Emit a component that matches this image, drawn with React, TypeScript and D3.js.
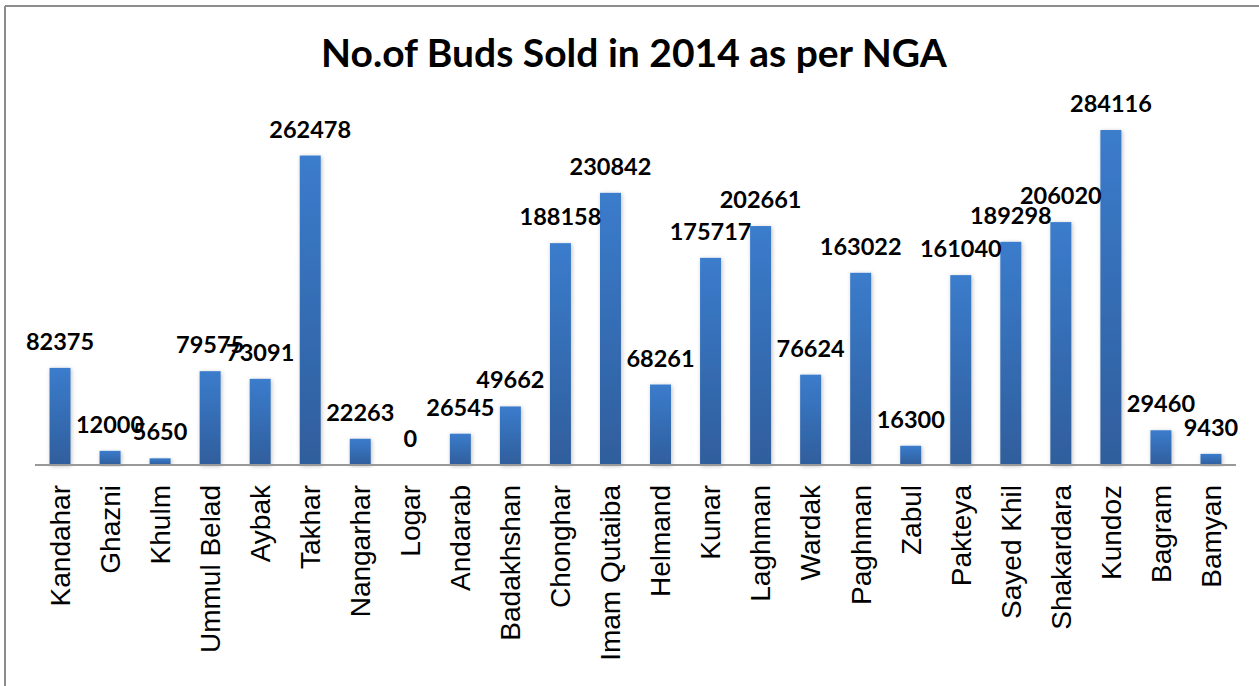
import React from "react";
import * as d3 from "d3";

const categories = [
  "Kandahar", "Ghazni", "Khulm", "Ummul Belad", "Aybak", "Takhar", "Nangarhar", "Logar",
  "Andarab", "Badakhshan", "Chonghar", "Imam Qutaiba", "Helmand", "Kunar", "Laghman", "Wardak",
  "Paghman", "Zabul", "Pakteya", "Sayed Khil", "Shakardara", "Kundoz", "Bagram", "Bamyan",
];
const values = [
  82375, 12000, 5650, 79575, 73091, 262478, 22263, 0,
  26545, 49662, 188158, 230842, 68261, 175717, 202661, 76624,
  163022, 16300, 161040, 189298, 206020, 284116, 29460, 9430,
];
const title = "No.of Buds Sold in 2014 as per NGA";

const W = 1259;
const H = 686;
const plotLeft = 35;
const plotRight = 1236;
const plotBottom = 465;
const plotTop = 111.3;

export default function App() {
  const y = d3.scaleLinear().domain([0, 300000]).range([plotBottom, plotTop]);
  const x = d3.scaleBand<string>().domain(categories).range([plotLeft, plotRight]);
  const center = (c: string) => (x(c) as number) + x.bandwidth() / 2;
  const bw = 21;

  return (
    <svg width={W} height={H} style={{ position: "absolute", left: 0, top: 0, background: "#fff" }}>
      <defs>
        <linearGradient id="barGrad" x1="0" y1="0" x2="0" y2="1">
          <stop offset="0%" stopColor="#3b7ccc" />
          <stop offset="100%" stopColor="#2f5e9c" />
        </linearGradient>
        <filter id="shadow" x="-50%" y="-10%" width="200%" height="120%">
          <feDropShadow dx="1" dy="1" stdDeviation="2" floodColor="#000" floodOpacity="0.25" />
        </filter>
      </defs>
      <rect x={0} y={0} width={W} height={H} fill="#fff" />
      <line x1={5} y1={6} x2={W} y2={6} stroke="#8c8c8c" strokeWidth={2} />
      <line x1={5} y1={6} x2={5} y2={H} stroke="#8c8c8c" strokeWidth={2} />
      <text x={634} y={67} textAnchor="middle" fontFamily="Lato, sans-serif" fontWeight="bold" fontSize={39} fill="#000">
        {title}
      </text>
      {categories.map((c, i) => {
        const cx = center(c);
        const v = values[i];
        return (
          <g key={c}>
            {v > 0 && (
              <rect x={cx - bw / 2} y={y(v)} width={bw} height={plotBottom - y(v)} fill="url(#barGrad)" filter="url(#shadow)" />
            )}
          </g>
        );
      })}
      <line x1={plotLeft} y1={plotBottom} x2={plotRight} y2={plotBottom} stroke="#999" strokeWidth={2} />
      {categories.map((c, i) => {
        const cx = center(c);
        const v = values[i];
        return (
          <text key={"v" + c} x={cx} y={y(v) - 18} textAnchor="middle" fontFamily="Lato, sans-serif" fontWeight="bold" fontSize={23.5} fill="#000">
            {v}
          </text>
        );
      })}
      {categories.map((c) => {
        const cx = center(c);
        return (
          <text key={"l" + c} transform={`translate(${cx},${plotBottom + 20}) rotate(-90)`} dy="0.35em" textAnchor="end" fontFamily="'Liberation Sans', Arial, sans-serif" fontSize={28} fill="#000">
            {c}
          </text>
        );
      })}
    </svg>
  );
}
